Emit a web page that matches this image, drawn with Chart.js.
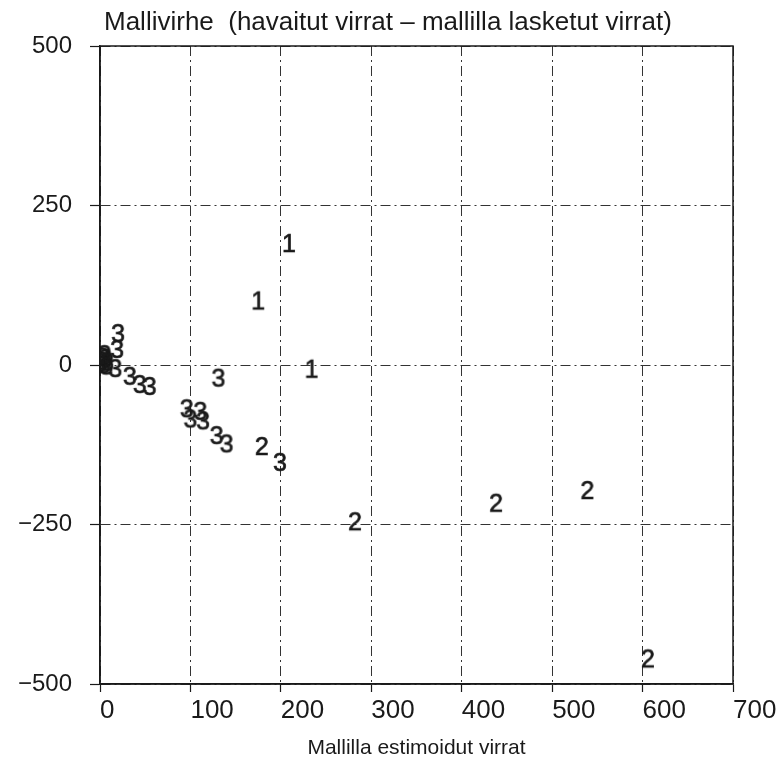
<!DOCTYPE html>
<html lang="fi">
<head>
<meta charset="utf-8">
<title>Mallivirhe</title>
<script src="https://cdn.jsdelivr.net/npm/chart.js@4.4.1/dist/chart.umd.min.js"></script>
<style>
    html, body { margin: 0; padding: 0; background: #ffffff; }
    #kaavio { display: block; }
</style>
</head>
<body>
<canvas id="kaavio" width="783" height="763"></canvas>
<script>
// ==========================================
// Mallivirhe vs. mallilla estimoidut virrat — hajontakuvio, pisteet ryhmän numerona
// ==========================================

var OTSIKKO = 'Mallivirhe  (havaitut virrat \u2013 mallilla lasketut virrat)';
var X_OTSIKKO = 'Mallilla estimoidut virrat';

var X_TICKS = [0, 100, 200, 300, 400, 500, 600, 700];
var Y_TICKS = [-500, -250, 0, 250, 500];

var RYHMAT = ['1', '2', '3'];

var ryhma1X = [175, 209, 234];
var ryhma1Y = [98, 188, -9];

var ryhma2X = [179, 282, 438, 539, 606];
var ryhma2Y = [-130, -248, -219, -199, -463];

var ryhma3X = [2, 4, 6, 3, 7, 1, 5, 8, 20, 19, 17, 33, 44, 55, 131, 96, 111, 100, 114, 129, 140, 199];
var ryhma3Y = [4, -2, 8, 10, -4, 1, 14, 2, 47, 22, -8, -20, -33, -36, -23, -71, -75, -87, -90, -113, -126, -155];

(function () {
    'use strict';

    var MUSTE = '#1a1a1a';
    var FONTTI = '"Liberation Sans", Arial, Helvetica, sans-serif';

    /// Piirtää numeron pieneen canvasiin, jota käytetään pisteen tyylinä.
    function numeroMerkki(teksti) {
        var c = document.createElement('canvas');
        c.width = 30;
        c.height = 30;
        var g = c.getContext('2d');
        g.font = '25px ' + FONTTI;
        g.fillStyle = MUSTE;
        g.strokeStyle = MUSTE;
        g.lineWidth = 0.7;
        g.textAlign = 'center';
        g.textBaseline = 'middle';
        g.fillText(teksti, 15, 15);
        g.strokeText(teksti, 15, 15);
        return c;
    }

    function pisteet(xs, ys) {
        return xs.map(function (x, i) { return { x: x, y: ys[i] }; });
    }

    function ryhma(nimi, xs, ys) {
        return {
            label: nimi,
            data: pisteet(xs, ys),
            pointStyle: numeroMerkki(nimi),
            pointRadius: 15,
            showLine: false
        };
    }

    /// Kehys ja yläotsikko.
    var kehys = {
        id: 'kehys',
        beforeDatasetsDraw: function (chart) {
            var a = chart.chartArea;
            var ctx = chart.ctx;
            ctx.save();
            ctx.strokeStyle = MUSTE;
            ctx.lineWidth = 1.5;
            ctx.strokeRect(a.left, a.top, a.right - a.left, a.bottom - a.top);
            ctx.restore();
        },
        afterDraw: function (chart) {
            var a = chart.chartArea;
            var ctx = chart.ctx;
            ctx.save();
            ctx.fillStyle = MUSTE;
            ctx.font = '26px ' + FONTTI;
            ctx.textAlign = 'left';
            ctx.textBaseline = 'alphabetic';
            ctx.fillText(OTSIKKO, a.left + 4, a.top - 16);
            ctx.restore();
        }
    };

    var viiva = [10, 4, 2, 4];

    new Chart(document.getElementById('kaavio'), {
        type: 'scatter',
        data: {
            datasets: [
                ryhma(RYHMAT[0], ryhma1X, ryhma1Y),
                ryhma(RYHMAT[1], ryhma2X, ryhma2Y),
                ryhma(RYHMAT[2], ryhma3X, ryhma3Y)
            ]
        },
        options: {
            responsive: false,
            animation: false,
            layout: { padding: { left: 8, right: 50, top: 46, bottom: 0 } },
            plugins: {
                legend: { display: false },
                tooltip: { enabled: false },
                title: { display: false }
            },
            scales: {
                x: {
                    type: 'linear',
                    min: 0,
                    max: 700,
                    afterBuildTicks: function (s) { s.ticks = X_TICKS.map(function (v) { return { value: v }; }); },
                    afterFit: function (s) { s.height = 79; s.paddingRight = 0; s.paddingLeft = 0; },
                    ticks: {
                        color: MUSTE,
                        align: 'start',
                        padding: 3,
                        maxRotation: 0,
                        font: { family: FONTTI, size: 26 }
                    },
                    grid: { color: '#333333', lineWidth: 1, tickLength: 8, tickColor: MUSTE, tickWidth: 1.2 },
                    border: { color: MUSTE, width: 1.5, dash: viiva },
                    title: {
                        display: true,
                        text: X_OTSIKKO,
                        color: MUSTE,
                        padding: { top: 0, bottom: 2 },
                        font: { family: FONTTI, size: 21 }
                    }
                },
                y: {
                    type: 'linear',
                    min: -500,
                    max: 500,
                    afterBuildTicks: function (s) { s.ticks = Y_TICKS.map(function (v) { return { value: v }; }); },
                    afterFit: function (s) { s.width = 92; },
                    ticks: {
                        color: MUSTE,
                        padding: 18,
                        font: { family: FONTTI, size: 24 },
                        callback: function (v) { return v < 0 ? '\u2212' + Math.abs(v) : String(v); }
                    },
                    grid: { color: '#333333', lineWidth: 1, tickLength: 10, tickColor: MUSTE, tickWidth: 1.2 },
                    border: { color: MUSTE, width: 1.5, dash: viiva }
                }
            }
        },
        plugins: [kehys]
    });
})();
</script>
</body>
</html>
